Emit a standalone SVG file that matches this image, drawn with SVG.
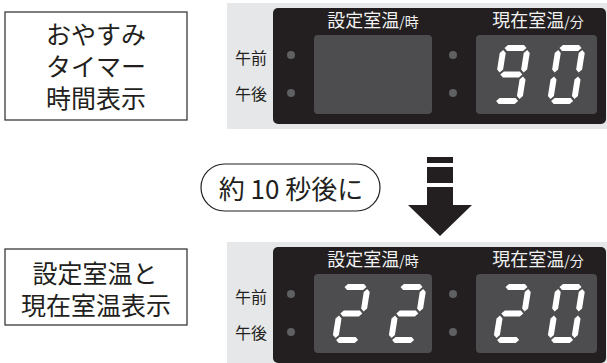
<svg xmlns="http://www.w3.org/2000/svg" xmlns:xlink="http://www.w3.org/1999/xlink" width="607" height="363" viewBox="0 0 607 363">
<style>
.t{font-family:"Noto Sans CJK JP","Noto Sans",sans-serif;fill:#231f20}
.big{font-size:25px}
.hdr{font-family:"Noto Sans CJK JP","Noto Sans",sans-serif;fill:#f2f2f2;font-size:18px}
.hdr-s{font-size:14px}
.ampm{font-size:16px}
.box{fill:#fff;stroke:#3a3a3a;stroke-width:1.3}
.bg{fill:#e6e7e8}
.dark{fill:#231f20}
.win{fill:#4d4d4f}
.dot{fill:#5f6062}
.seg{fill:#fff}
</style>
<defs>
<polygon id="sa" class="seg" points="4,3 7,0 23,0 26,3 23,6 7,6"/>
<polygon id="sg" class="seg" points="4,29.5 7,26.5 23,26.5 26,29.5 23,32.5 7,32.5"/>
<polygon id="sd" class="seg" points="4,56 7,53 23,53 26,56 23,59 7,59"/>
<polygon id="sf" class="seg" points="3,5 6,8 6,24.5 3,27.5 0,24.5 0,8"/>
<polygon id="sb" class="seg" points="27,5 30,8 30,24.5 27,27.5 24,24.5 24,8"/>
<polygon id="se" class="seg" points="3,31.5 6,34.5 6,51 3,54 0,51 0,34.5"/>
<polygon id="sc" class="seg" points="27,31.5 30,34.5 30,51 27,54 24,51 24,34.5"/>
<g id="d9"><use xlink:href="#sa"/><use xlink:href="#sb"/><use xlink:href="#sc"/><use xlink:href="#sd"/><use xlink:href="#sf"/><use xlink:href="#sg"/></g>
<g id="d0"><use xlink:href="#sa"/><use xlink:href="#sb"/><use xlink:href="#sc"/><use xlink:href="#sd"/><use xlink:href="#se"/><use xlink:href="#sf"/></g>
<g id="d2"><use xlink:href="#sa"/><use xlink:href="#sb"/><use xlink:href="#sg"/><use xlink:href="#se"/><use xlink:href="#sd"/></g>
<g id="frame">
<rect class="bg" x="227" y="3" width="380" height="126"/>
<rect class="dark" x="273" y="8" width="333" height="116" rx="5"/>
<rect class="win" x="314" y="35" width="118" height="79" rx="4"/>
<rect class="win" x="476" y="35" width="121" height="79" rx="4"/>
<circle class="dot" cx="291" cy="55" r="4"/>
<circle class="dot" cx="291" cy="93" r="4"/>
<circle class="dot" cx="453" cy="55" r="4"/>
<circle class="dot" cx="453" cy="93" r="4"/>
<text class="t ampm" x="251" y="57" text-anchor="middle" dominant-baseline="central">午前</text>
<text class="t ampm" x="251" y="93" text-anchor="middle" dominant-baseline="central">午後</text>
<text class="hdr" x="373" y="27" text-anchor="middle">設定室温<tspan class="hdr-s">/時</tspan></text>
<text class="hdr" x="538" y="27" text-anchor="middle">現在室温<tspan class="hdr-s">/分</tspan></text>
</g>
</defs>

<g id="label-sleep-timer">
<rect class="box" x="5" y="12" width="182" height="108"/>
<text class="t big" x="96" y="33" text-anchor="middle" dominant-baseline="central">おやすみ</text>
<text class="t big" x="96" y="65" text-anchor="middle" dominant-baseline="central">タイマー</text>
<text class="t big" x="96" y="97" text-anchor="middle" dominant-baseline="central">時間表示</text>
</g>

<g id="panel-top">
<use xlink:href="#frame"/>
<use xlink:href="#d9" transform="translate(501,45) skewX(-9)"/>
<use xlink:href="#d0" transform="translate(556,45) skewX(-9)"/>
</g>

<g id="label-after">
<rect x="201" y="164" width="179" height="47" rx="23.5" fill="#fff" stroke="#231f20" stroke-width="1.2"/>
<text class="t" x="291" y="187.5" font-size="26" text-anchor="middle" dominant-baseline="central">約 10 秒後に</text>
</g>

<g id="connectors">
<rect class="dark" x="427" y="157" width="26" height="6"/>
<rect class="dark" x="427" y="167" width="26" height="16"/>
<polygon class="dark" points="427,187 453,187 453,205 472,205 440,236 408,205 427,205"/>
</g>

<g id="label-set-current">
<rect class="box" x="5" y="249" width="182" height="76"/>
<text class="t big" x="95" y="272" text-anchor="middle" dominant-baseline="central">設定室温と</text>
<text class="t big" x="96" y="304" text-anchor="middle" dominant-baseline="central">現在室温表示</text>
</g>

<g id="panel-bottom">
<use xlink:href="#frame" transform="translate(0,239)"/>
<use xlink:href="#d2" transform="translate(341,284) skewX(-9)"/>
<use xlink:href="#d2" transform="translate(397,284) skewX(-9)"/>
<use xlink:href="#d2" transform="translate(502,284) skewX(-9)"/>
<use xlink:href="#d0" transform="translate(556,284) skewX(-9)"/>
</g>
</svg>
